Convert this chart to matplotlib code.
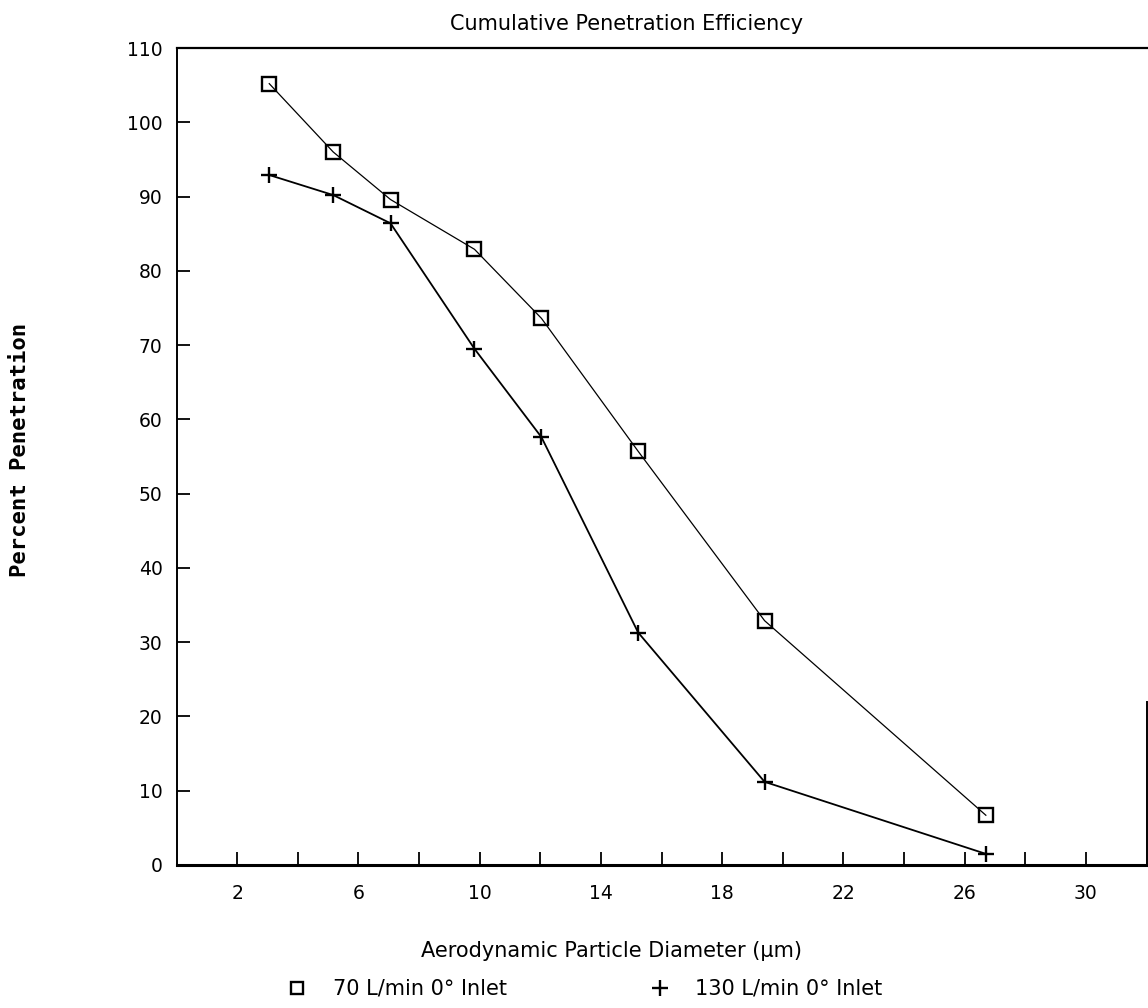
import matplotlib
matplotlib.use("Agg")
import matplotlib.pyplot as plt
from matplotlib.lines import Line2D
from matplotlib.ticker import FixedLocator

# Data
diameter = [3.06, 5.17, 7.06, 9.83, 12.04, 15.23, 19.40, 26.70]
pen_70 = [105.2, 96.0, 89.6, 82.9, 73.6, 55.7, 32.9, 6.7]
pen_130 = [92.9, 90.2, 86.4, 69.5, 57.6, 31.3, 11.2, 1.5]
x_ticklabels = [2, 6, 10, 14, 18, 22, 26, 30]
y_ticks = list(range(0, 111, 10))

W, H = 1148, 1008
fig = plt.figure(figsize=(W / 100, H / 100), dpi=100)
ax = fig.add_axes([176.5 / W, 1 - 865 / H, 970 / W, 817 / H])

ax.plot(diameter, pen_70, color="black", lw=0.9, marker="s", markersize=9.5,
        markerfacecolor="none", markeredgewidth=1.7, markeredgecolor="black")
ax.plot(diameter, pen_130, color="black", lw=1.3, marker="+", markersize=11,
        markeredgewidth=1.7)

ax.set_xlim(0, 32)
ax.set_ylim(0, 110)
ax.xaxis.set_major_locator(FixedLocator(x_ticklabels))
ax.xaxis.set_minor_locator(FixedLocator([v for v in range(4, 31, 4)]))
ax.set_yticks(y_ticks)
ax.tick_params(axis="both", which="both", direction="in", length=9.5, width=1.3,
               labelsize=13.5, color="black")
ax.tick_params(axis="x", which="both", top=False, pad=14)
ax.tick_params(axis="y", which="both", right=False, pad=10)

for side, lw in [("bottom", 2.2), ("left", 1.4), ("top", 1.6), ("right", 1.4)]:
    ax.spines[side].set_linewidth(lw)
ax.spines["right"].set_bounds(0, 22)

fig.text(627 / W, 1 - 24 / H, "Cumulative Penetration Efficiency",
         ha="center", va="center", fontsize=15)
fig.text(612 / W, 1 - 951 / H, "Aerodynamic Particle Diameter (\u03bcm)",
         ha="center", va="center", fontsize=15)
fig.text(20 / W, 1 - 450 / H, "Percent Penetration", rotation=90,
         ha="center", va="center", fontsize=16, family="DejaVu Sans Mono",
         fontweight="bold")

# Legend row
fig.add_artist(Line2D([297 / W], [1 - 988 / H], transform=fig.transFigure,
                      marker="s", markersize=9, markerfacecolor="none",
                      markeredgecolor="black", markeredgewidth=1.7, linestyle="none"))
fig.text(333 / W, 1 - 988 / H, "70 L/min 0\u00b0 Inlet", ha="left", va="center",
         fontsize=15)
fig.add_artist(Line2D([660 / W], [1 - 988 / H], transform=fig.transFigure,
                      marker="+", markersize=11, markeredgecolor="black",
                      markeredgewidth=1.7, linestyle="none"))
fig.text(695 / W, 1 - 988 / H, "130 L/min 0\u00b0 Inlet", ha="left", va="center",
         fontsize=15)

fig.savefig("out.png", dpi=100)
